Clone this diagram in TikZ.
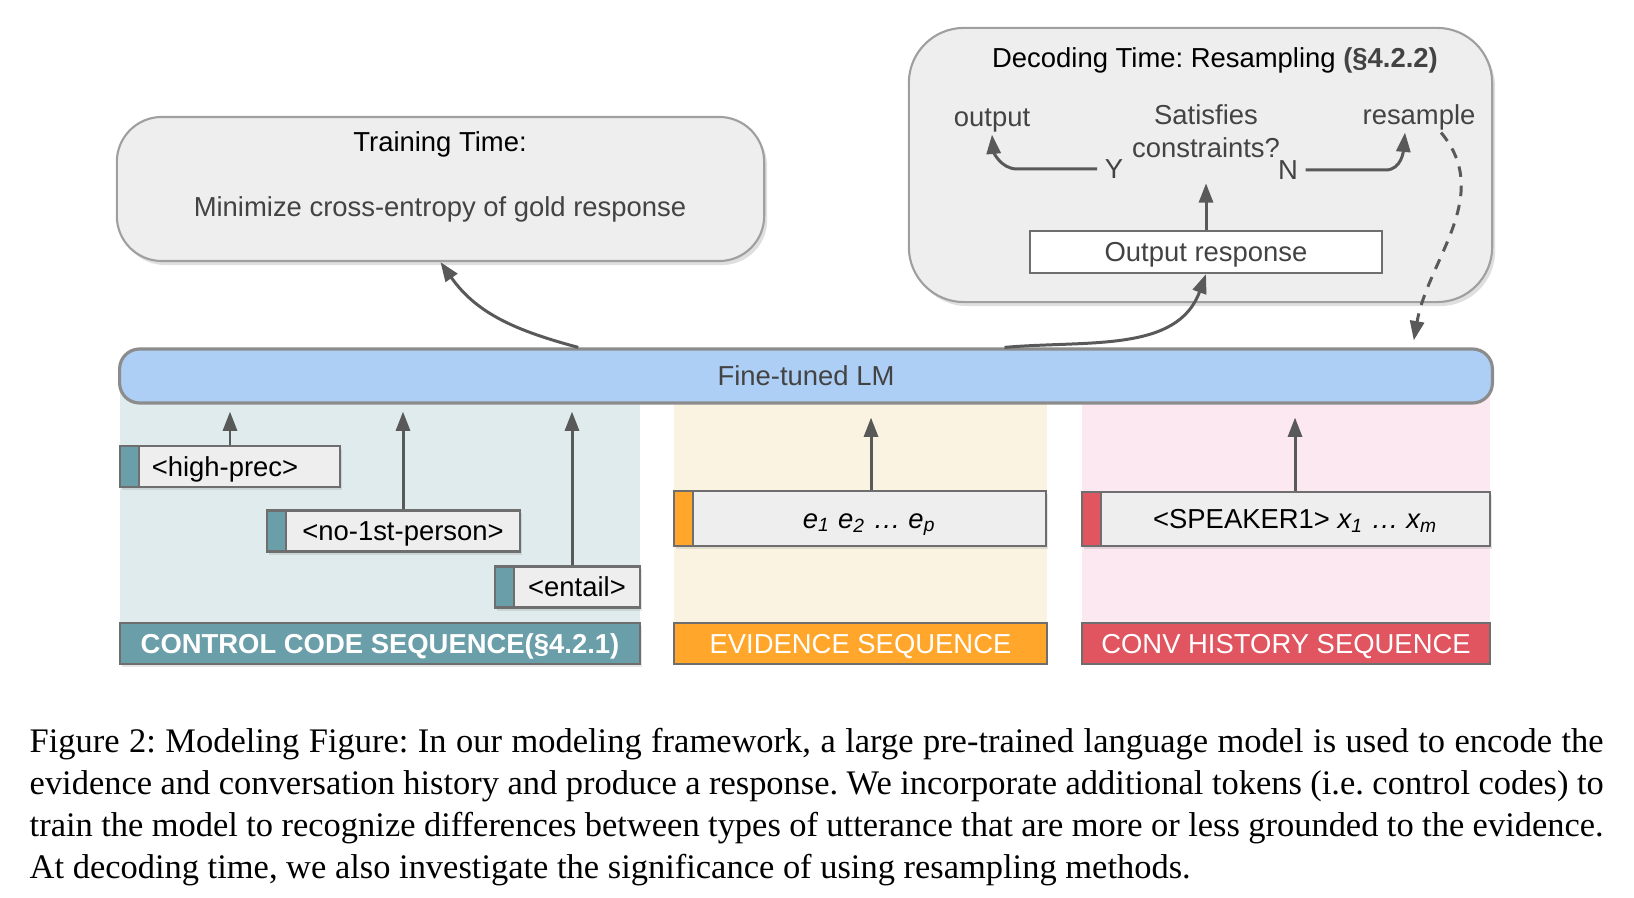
\documentclass[tikz,border=0pt]{standalone}
\usepackage{fontspec}
\setmainfont{Liberation Serif}
\newfontfamily\diagfont{Liberation Sans}
\usetikzlibrary{positioning,arrows.meta,shadows}

\definecolor{lmblue}{HTML}{AECFF5}
\definecolor{boxgray}{HTML}{EEEEEE}
\definecolor{linegray}{HTML}{595959}
\definecolor{bordergray}{HTML}{6E6E6E}
\definecolor{ctlteal}{HTML}{6A9EA8}
\definecolor{evorange}{HTML}{FFA62B}
\definecolor{convred}{HTML}{E0555F}
\definecolor{ctlbg}{HTML}{DFEBEC}
\definecolor{evbg}{HTML}{FAF3E1}
\definecolor{convbg}{HTML}{FCE8F0}
\definecolor{textgray}{HTML}{434343}

\tikzset{
  flow/.style={draw=linegray, line width=0.85pt, -{Triangle[width=4pt,length=5.5pt]}},
  ctext/.style={text height=5.6pt, text depth=0pt},
  phase/.style={draw=gray!75, fill=boxgray, line width=0.6pt,
    drop shadow={opacity=0.25, shadow xshift=0.03cm, shadow yshift=-0.04cm}},
  token/.style={ctext, draw=bordergray, fill=boxgray, line width=0.6pt, minimum height=0.41cm, inner sep=0pt,
    drop shadow={opacity=0.2, shadow xshift=0.02cm, shadow yshift=-0.03cm},
    path picture={
      \fill[#1] (path picture bounding box.north west) rectangle ([xshift=0.19cm]path picture bounding box.south west);
      \draw[bordergray, line width=0.8pt] ([xshift=0.19cm]path picture bounding box.north west) -- ([xshift=0.19cm]path picture bounding box.south west);}},
  seqlabel/.style={ctext, draw=bordergray, text=white, minimum height=0.41cm, inner sep=0pt, line width=0.6pt},
  gtext/.style={ctext, text=textgray, inner sep=2pt},
}

\begin{document}
\begin{tikzpicture}[x=0.01cm, y=-0.01cm, font=\diagfont\fontsize{7.8}{9.4}\selectfont\frenchspacing]
  \useasboundingbox (0,0) rectangle (1634,898);

  % sequence panels
  \fill[ctlbg] (120,385) rectangle (640,623);
  \fill[evbg] (674,385) rectangle (1047,623);
  \fill[convbg] (1082,385) rectangle (1490,623);

  % language model
  \node[ctext, draw=gray!90, fill=lmblue, line width=0.9pt, rounded corners=0.2cm,
        minimum width=13.72cm, minimum height=0.54cm, text=textgray] (lm) at (806,376) {Fine-tuned LM};

  % training time
  \node[phase, rounded corners=0.45cm, minimum width=6.47cm, minimum height=1.44cm] (train) at (440.5,189) {};
  \node[ctext] (traintitle) at (440,142) {Training Time:};
  \node[gtext] (trainbody) at (440,207) {Minimize cross-entropy of gold response};

  % decoding time
  \node[phase, rounded corners=0.55cm, minimum width=5.83cm, minimum height=2.74cm] (dec) at (1200.5,165) {};
  \node[ctext] (dectitle) at (1215,58) {Decoding Time: Resampling \textcolor{textgray}{\bfseries(§4.2.2)}};
  \node[gtext] (out) at (992,117) {output};
  \node[text=textgray, align=center, inner sep=0pt] (sat) at (1206,131) {Satisfies\\constraints?};
  \node[gtext] (res) at (1419,115) {resample};
  \node[gtext] (yes) at (1114,169) {Y};
  \node[gtext] (no) at (1288,170) {N};
  \node[ctext, draw=bordergray, fill=white, line width=0.6pt, minimum width=3.52cm, minimum height=0.42cm,
        inner sep=0pt, text=textgray] (resp) at (1206,252) {Output response};

  \draw[flow] (resp.north) -- ([yshift=-0.25cm]sat.south);
  \draw[flow] (yes.west) -- ++(-80,0) to[out=180,in=-85] (out.south);
  \draw[flow] (no.east) -- ++(80,0) to[out=0,in=-95] ([xshift=-0.14cm]res.south);

  % control codes
  \node[token=ctlteal, minimum width=2.20cm] (hp) at (230,466.5) {\hspace*{-0.1cm}<high-prec>};
  \node[token=ctlteal, minimum width=2.53cm] (np) at (393.5,531) {\hspace*{0.19cm}<no-1st-person>};
  \node[token=ctlteal, minimum width=1.45cm] (en) at (567.5,587) {\hspace*{0.19cm}<entail>};
  \node[token=evorange, minimum width=3.72cm, minimum height=0.55cm] (ev) at (860,518.5)
       {\hspace*{0.19cm}\itshape e\textsubscript{1} e\textsubscript{2} … e\textsubscript{p}};
  \node[token=convred, minimum width=4.08cm, minimum height=0.54cm] (cv) at (1286,519)
       {\hspace*{0.19cm}<SPEAKER1> {\itshape x\textsubscript{1} … x\textsubscript{m}}};

  \node[seqlabel, fill=ctlteal, minimum width=5.20cm,
        drop shadow={opacity=0.2, shadow xshift=0.02cm, shadow yshift=-0.03cm}] (ctllab) at (380,643.5)
       {\bfseries CONTROL CODE SEQUENCE(§4.2.1)};
  \node[seqlabel, fill=evorange, minimum width=3.73cm] (evlab) at (860.5,643.5) {EVIDENCE SEQUENCE};
  \node[seqlabel, fill=convred, minimum width=4.08cm] (cvlab) at (1286,643.5) {CONV HISTORY SEQUENCE};

  \draw[flow, shorten >=0.07cm] (hp.north) -- (hp.north |- lm.south);
  \draw[flow, shorten >=0.07cm] ([xshift=0.095cm]np.north) -- ([xshift=0.095cm]np.north |- lm.south);
  \draw[flow, shorten >=0.07cm] ([xshift=0.045cm]en.north) -- ([xshift=0.045cm]en.north |- lm.south);
  \draw[flow, shorten >=0.13cm] ([xshift=0.11cm]ev.north) -- ([xshift=0.11cm]ev.north |- lm.south);
  \draw[flow, shorten >=0.13cm] ([xshift=0.09cm]cv.north) -- ([xshift=0.09cm]cv.north |- lm.south);

  % model outputs
  \draw[flow] ([xshift=4.6cm]lm.north west) to[out=165,in=-55] (train.south);
  \draw[flow] ([xshift=8.86cm]lm.north west) to[out=5,in=-110] (resp.south);
  \draw[flow, dash pattern=on 3pt off 2.5pt] ([xshift=0.22cm]res.south) to[out=-50,in=80]
       ([xshift=12.95cm,yshift=0.07cm]lm.north west);

  % caption
  \node[anchor=north west, inner sep=0pt, text width=15.73cm, align=justify,
        font=\rmfamily\fontsize{9.8}{11.9}\selectfont\frenchspacing] (cap) at (29,728)
  {Figure 2: Modeling Figure: In our modeling framework, a large pre-trained language model is used to encode the\linebreak
   evidence and conversation history and produce a response. We incorporate additional tokens (i.e. control codes) to\linebreak
   train the model to recognize differences between types of utterance that are more or less grounded to the evidence.\linebreak
   At decoding time, we also investigate the significance of using resampling methods.};
\end{tikzpicture}
\end{document}
